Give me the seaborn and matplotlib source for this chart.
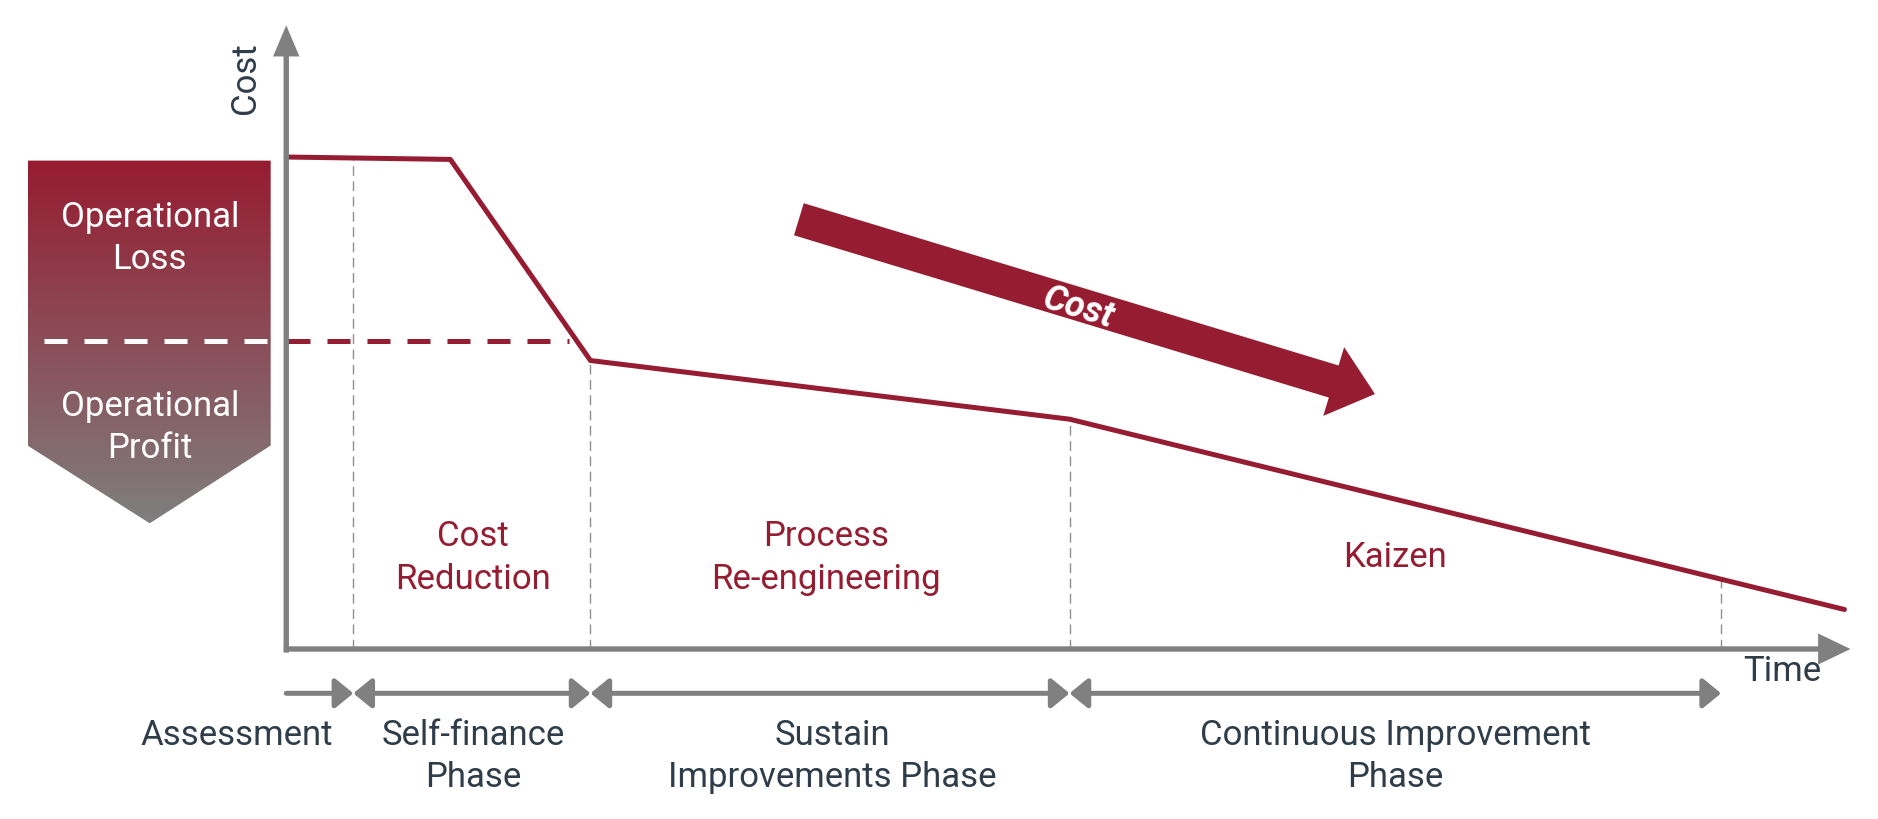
import numpy as np
import pandas as pd
import matplotlib
matplotlib.use("Agg")
import matplotlib.pyplot as plt
import seaborn as sns
from matplotlib.patches import Polygon, FancyArrow
from matplotlib.colors import to_rgb

# cost curve over time (arbitrary units, y axis at time 0)
time = [0, 13.7, 25.4, 65.4, 130.1]
cost = [41.1, 40.9, 24.1, 19.2, 3.3]
# phase boundaries on the time axis
bounds = [0, 5.6, 25.4, 65.4, 119.8]
break_even = 25.7
phase_labels = ["Cost\nReduction", "Process\nRe-engineering", "Kaizen"]
phase_label_x = [15.6, 45.1, 92.6]
bottom_labels = ["Assessment", "Self-finance\nPhase", "Sustain\nImprovements Phase",
                 "Continuous Improvement\nPhase"]
bottom_label_x = [-4.1, 15.6, 45.6, 92.6]

RED = "#961c31"
GRAY = "#808080"
DARK = "#2e3d49"
FONT = ["Roboto", "DejaVu Sans"]
FS = 25

sns.set_theme(style="white")
plt.rcParams["font.family"] = FONT

fig = plt.figure(figsize=(18.78, 8.2), dpi=100)
ax = fig.add_axes([0, 0, 1, 1])
ax.set_axis_off()

# left gradient chevron
shape = Polygon([(-21.6, 40.8), (-1.3, 40.8), (-1.3, 17.0), (-11.4, 10.5), (-21.6, 17.0)],
                closed=True, facecolor="none", edgecolor="none")
ax.add_patch(shape)
top, bot = np.array(to_rgb(RED)), np.array(to_rgb("#7f7f7f"))
frac = np.linspace(0, 1, 256)[:, None, None]
grad = top * (1 - frac) + bot * frac
im = ax.imshow(grad, extent=[-21.6, -1.3, 10.5, 40.8], origin="upper", aspect="auto", zorder=1)
im.set_clip_path(shape)
ax.text(-11.4, 34.4, "Operational\nLoss", color="white", fontsize=FS, ha="center", va="center",
        linespacing=1.36, zorder=3)
ax.text(-11.4, 18.6, "Operational\nProfit", color="white", fontsize=FS, ha="center", va="center",
        linespacing=1.36, zorder=3)

# break-even dashed line
ax.plot([-20.2, -1.4], [break_even, break_even], color="white", lw=3.6, dashes=(4.6, 3.4), zorder=2)
ax.plot([0.1, 23.6], [break_even, break_even], color=RED, lw=3.6, dashes=(4.6, 3.4), zorder=2)

# phase dividers
for b in bounds[1:]:
    ax.plot([b, b], [0, np.interp(b, time, cost)], color="#8f8f8f", lw=1.0, dashes=(7, 4), zorder=1)

# cost line
df = pd.DataFrame({"time": time, "cost": cost})
sns.lineplot(data=df, x="time", y="cost", color=RED, lw=3.6, sort=False, ax=ax, zorder=4)

# axes arrows
ax.add_patch(FancyArrow(0, -0.3, 0, 52.4, width=0.45, head_width=2.2, head_length=2.6,
                        length_includes_head=True, color=GRAY, lw=0, zorder=5))
ax.add_patch(FancyArrow(-0.2, 0, 130.8, 0, width=0.45, head_width=2.6, head_length=2.7,
                        length_includes_head=True, color=GRAY, lw=0, zorder=5))
ax.text(-3.4, 47.8, "Cost", rotation=90, color=DARK, fontsize=FS, ha="center", va="center")
ax.text(124.9, -1.8, "Time", color=DARK, fontsize=FS, ha="center", va="center")

# big downward cost arrow
ax.add_patch(FancyArrow(42.8, 35.9, 48.1, -14.6, width=2.8, head_width=6.0, head_length=3.6,
                        length_includes_head=True, color=RED, lw=0, zorder=3))
ax.text(66.1, 28.6, "Cost", rotation=-16.9, color="white", fontsize=26, fontweight="bold",
        fontstyle="italic", ha="center", va="center", rotation_mode="anchor", zorder=4)

for lab, x in zip(phase_labels, phase_label_x):
    ax.text(x, 7.7, lab, color=RED, fontsize=FS, ha="center", va="center", linespacing=1.36)

# phase arrows below the time axis
ay = -3.7
ax.annotate("", xy=(bounds[1], ay), xytext=(bounds[0], ay),
            arrowprops=dict(arrowstyle="-|>,head_length=0.55,head_width=0.45", lw=3.6, color=GRAY,
                            shrinkA=0, shrinkB=0, mutation_scale=20))
for a, b in zip(bounds[1:-1], bounds[2:]):
    ax.annotate("", xy=(b, ay), xytext=(a, ay),
                arrowprops=dict(arrowstyle="<|-|>,head_length=0.55,head_width=0.45", lw=3.6,
                                color=GRAY, shrinkA=0, shrinkB=0, mutation_scale=20))
for lab, x in zip(bottom_labels, bottom_label_x):
    ax.text(x, -5.8, lab, color=DARK, fontsize=FS, ha="center", va="top", linespacing=1.32)

ax.set_xlim(-23.9, 132.9)
ax.set_ylim(-14.2, 54.3)
fig.savefig("out.png", dpi=100)
